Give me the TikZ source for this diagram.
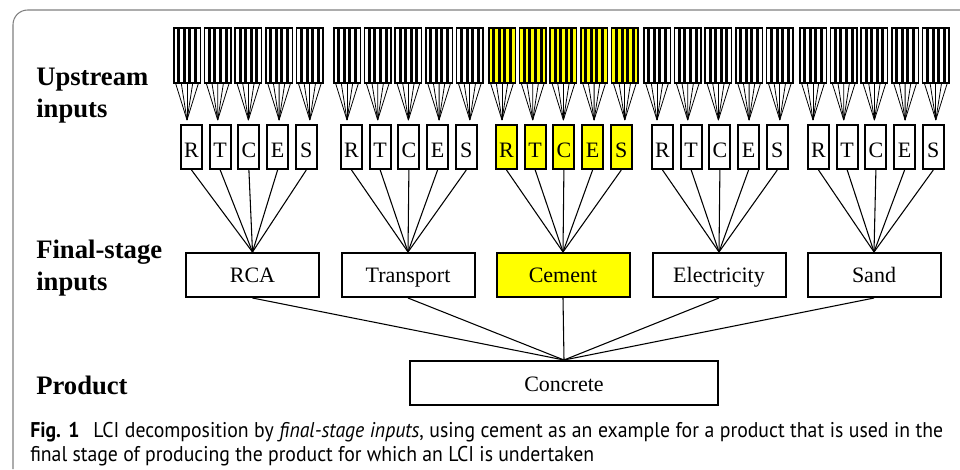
\documentclass[tikz,border=0pt]{standalone}
\usepackage{graphicx}
\usepackage{fontspec}
\setmainfont{Liberation Serif}
\newfontfamily\capfont{PT Sans}
\definecolor{hl}{RGB}{255,255,0}
\definecolor{framegray}{RGB}{128,128,128}
\newlength\capw
\newcommand\capone{\capfont\fontsize{16}{20}\selectfont\textbf{Fig. 1}\hspace{0.7em}LCI decomposition by \textit{final-stage inputs}, using cement as an example for a product that is used in the}
\newcommand\captwo{\capfont\fontsize{16}{20}\selectfont final stage of producing the product for which an LCI is undertaken}
\begin{document}
\settowidth\capw{\captwo}%
\pgfmathsetmacro\capscale{423/\the\capw}%
\pgfmathsetmacro\caponew{684.75/\capscale}%
\begin{tikzpicture}[x=0.75pt,y=-0.75pt,
  lbox/.style={draw,line width=1.5pt,minimum width=15.75pt,minimum height=33pt,inner sep=0pt,text height=11pt,text depth=0pt,font=\fontsize{16.5}{18}\selectfont},
  fbox/.style={draw,line width=1.5pt,minimum width=99.75pt,minimum height=33pt,inner sep=0pt,text height=11pt,text depth=0pt,font=\fontsize{16.5}{18}\selectfont},
  sbox/.style={fill=black,minimum width=21pt,minimum height=42.75pt,inner sep=0pt},
  conn/.style={line width=0.8pt},
  fan/.style={line width=0.6pt},
  lab/.style={anchor=base west,inner sep=0pt,font=\fontsize{20}{24}\selectfont\bfseries},
  capt/.style={anchor=base west,inner sep=0pt}]
\useasboundingbox (0,0) rectangle (960,469);
\draw[framegray, line width=0.8pt, rounded corners=11pt] (960,10) -- (13,10) -- (13,469);

\node[lab] (up1) at (36,85) {Upstream};
\node[lab] (up2) at (36,117) {inputs};
\node[lab] (fs1) at (36,258) {Final-stage};
\node[lab] (fs2) at (36,290) {inputs};
\node[lab] (pr) at (36,394) {Product};

\foreach \g/\sx/\lx/\fx/\fname/\c in {1/173/181/252.5/RCA/white, 2/333/341/408/Transport/white, 3/488/496/563/Cement/hl, 4/643/652/719/Electricity/white, 5/799/808/874/Sand/white} {
  \node[fbox,fill=\c] (F\g) at (\fx,275) {\fname};
  \foreach \i/\t in {0/R,1/T,2/C,3/E,4/S} {
    \pgfmathsetmacro\xs{\sx+30.7*\i}
    \pgfmathsetmacro\xl{\lx+28.7*\i+10.5}
    \node[lbox,fill=\c] (L\g\i) at (\xl,147) {\raisebox{-2pt}{\t}};
    \node[sbox] (S\g\i) at (\xs+14,55.5) {};
    \coordinate (T\g\i) at (\xs+14,120);
    \foreach \k in {0,...,4} {
      \fill[\c] (\xs+1.5+5.6*\k,29) rectangle ++(2.6,53);
      \coordinate (B\g\i\k) at (\xs+2.8+5.6*\k,84);
      \draw[fan] (B\g\i\k) -- (T\g\i);
    }
    \draw[conn] (L\g\i.south) -- (F\g.north);
  }
}

\node[fbox,minimum width=231pt] (P) at (564,383) {\raisebox{-1pt}{Concrete}};
\foreach \g in {1,...,5} \draw[conn] (F\g.south) -- (P.north);

\node[capt] (cap1) at (30,437) {\scalebox{\capscale}[1]{\makebox[\caponew pt][s]{\capone}}};
\node[capt] (cap2) at (30,461) {\scalebox{\capscale}[1]{\captwo}};
\end{tikzpicture}
\end{document}
